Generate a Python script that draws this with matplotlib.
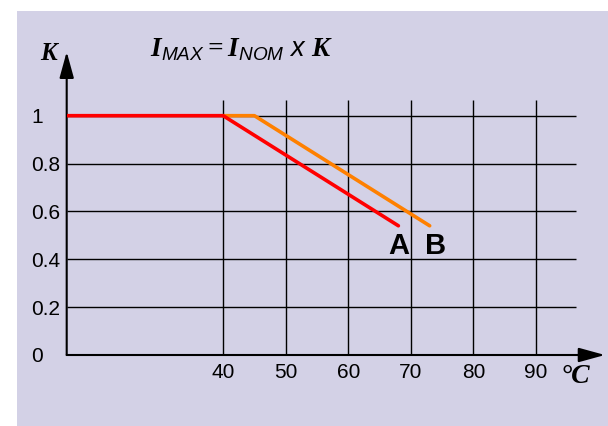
import matplotlib
matplotlib.use('Agg')
import matplotlib.pyplot as plt
from matplotlib.patches import Rectangle

# datos de la curva de reducción
temp_a = [15, 40, 68]
k_a = [1.0, 1.0, 0.54]
temp_b = [40, 45, 73]
k_b = [1.0, 1.0, 0.54]

x_ticks = [40, 50, 60, 70, 80, 90]
y_ticks = [0, 0.2, 0.4, 0.6, 0.8, 1.0]
y_labels = ['0', '0.2', '0.4', '0.6', '0.8', '1']

plt.rcParams['font.family'] = 'Liberation Sans'
plt.rcParams['mathtext.fontset'] = 'custom'
plt.rcParams['mathtext.bf'] = 'Liberation Serif:italic:bold'
plt.rcParams['mathtext.it'] = 'Liberation Sans:italic'
plt.rcParams['mathtext.rm'] = 'Liberation Sans'

fondo = '#d3d1e6'

fig = plt.figure(figsize=(6.08, 4.26), dpi=100, facecolor='white')
fig.patches.append(Rectangle((17 / 608, 0), 1, 415 / 426, transform=fig.transFigure,
                             facecolor=fondo, edgecolor='none', zorder=-10))

# ejes colocados en pixeles
ax = fig.add_axes([66.7 / 608, 71 / 426, 538.2 / 608, 1.27 * 239.3 / 426])
ax.set_facecolor('none')
ax.set_xlim(15, 101)
ax.set_ylim(0, 1.27)
for s in ax.spines.values():
    s.set_visible(False)

# rejilla
ax.hlines(y_ticks[1:], 15, 96.4, color='black', lw=1.0, zorder=1)
ax.vlines(x_ticks, 0, 1.065, color='black', lw=1.0, zorder=1)

# ejes con flecha
flecha = dict(arrowstyle='-|>,head_length=0.8,head_width=0.22', mutation_scale=20,
              color='black', lw=1.5, shrinkA=0, shrinkB=0)
ax.annotate('', xy=(101, 0), xytext=(15, 0), arrowprops=flecha, annotation_clip=False)
ax.annotate('', xy=(15, 1.267), xytext=(15, 0), arrowprops=flecha, annotation_clip=False)

# curvas
ax.plot(temp_b, k_b, color='#ff8000', lw=2.6, solid_capstyle='round', zorder=3)
ax.plot(temp_a, k_a, color='#ff0000', lw=2.6, solid_capstyle='round', zorder=4)

ax.set_xticks(x_ticks)
ax.set_yticks(y_ticks)
ax.set_yticklabels(y_labels)
ax.tick_params(length=0, labelsize=15)
ax.tick_params(axis='x', pad=6)
ax.tick_params(axis='y', pad=25.7)
for lbl in ax.get_yticklabels():
    lbl.set_horizontalalignment('left')

# textos
ax.text(68, 0.455, 'A', fontsize=21, fontweight='bold', ha='center', va='center')
ax.text(74, 0.455, 'B', fontsize=21, fontweight='bold', ha='center', va='center')
ax.text(12.1, 1.262, 'K', fontsize=18, family='Liberation Serif', fontweight='bold',
        style='italic', ha='center', va='center')
ax.text(96.2, -0.088, '°C', fontsize=20, family='Liberation Serif', fontweight='bold',
        style='italic', ha='center', va='center')
ax.text(28.3, 1.247, r'$\mathbf{I}_{\mathit{MAX}}\mathbf{=}\mathbf{I}_{\mathit{NOM}}\ \mathit{x}\ \mathbf{K}$',
        fontsize=19.5, ha='left', va='baseline')

plt.savefig('out.png', dpi=100, facecolor='white')
